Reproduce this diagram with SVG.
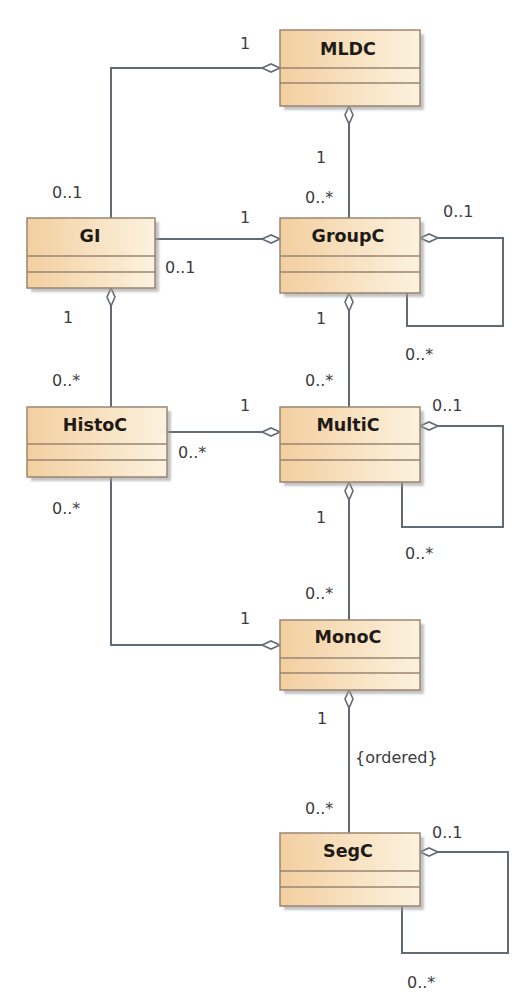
<svg xmlns="http://www.w3.org/2000/svg" width="518" height="1003" viewBox="0 0 518 1003">
<defs>
<linearGradient id="fill" x1="0" y1="0" x2="1" y2="0">
<stop offset="0" stop-color="#f3cfa0"/>
<stop offset="1" stop-color="#fcf2df"/>
</linearGradient>
<filter id="blur" x="-10%" y="-10%" width="130%" height="130%"><feGaussianBlur stdDeviation="1.2"/></filter>
</defs>
<style>
.shadow{fill:#9c9c9c;opacity:0.6;filter:url(#blur)}
.box{fill:url(#fill);stroke:#9a8672;stroke-width:1.5}
.div{stroke:#9a8672;stroke-width:1.5}
.title{font-family:"DejaVu Sans",Verdana,sans-serif;font-weight:bold;font-size:17.5px;fill:#1e1a16;text-anchor:middle}
.lbl{font-family:"DejaVu Sans",Verdana,sans-serif;font-size:16px;fill:#3c3c3c}
.ln{fill:none;stroke:#616b76;stroke-width:2}
.dia{fill:#ffffff;stroke:#616b76;stroke-width:1.6}
</style>
<rect width="518" height="1003" fill="#ffffff"/>
<g id="connectors">
<path class="ln" d="M262,68 L111,68 L111,218"/>
<polygon class="dia" points="280,68 271,64 262,68 271,72"/>
<path class="ln" d="M349,124 L349,218"/>
<polygon class="dia" points="349,106 345,115 349,124 353,115"/>
<path class="ln" d="M155,239 L262,239"/>
<polygon class="dia" points="280,239 271,235 262,239 271,243"/>
<path class="ln" d="M438,238 L503,238 L503,326 L407,326 L407,293"/>
<polygon class="dia" points="420,238 429,234 438,238 429,242"/>
<path class="ln" d="M349,311 L349,407"/>
<polygon class="dia" points="349,293 345,302 349,311 353,302"/>
<path class="ln" d="M111,306 L111,407"/>
<polygon class="dia" points="111,288 107,297 111,306 115,297"/>
<path class="ln" d="M167,432 L262,432"/>
<polygon class="dia" points="280,432 271,428 262,432 271,436"/>
<path class="ln" d="M438,426 L503,426 L503,527 L402,527 L402,482"/>
<polygon class="dia" points="420,426 429,422 438,426 429,430"/>
<path class="ln" d="M349,500 L349,620"/>
<polygon class="dia" points="349,482 345,491 349,500 353,491"/>
<path class="ln" d="M111,477 L111,645 L262,645"/>
<polygon class="dia" points="280,645 271,641 262,645 271,649"/>
<path class="ln" d="M349,708 L349,833"/>
<polygon class="dia" points="349,690 345,699 349,708 353,699"/>
<path class="ln" d="M438,852 L508,852 L508,953 L402,953 L402,906"/>
<polygon class="dia" points="420,852 429,848 438,852 429,856"/>
</g>
<g id="MLDC">
<rect class="shadow" x="284" y="34" width="140" height="76"/>
<rect class="box" x="280" y="30" width="140" height="76"/>
<line class="div" x1="280" y1="68" x2="420" y2="68"/>
<line class="div" x1="280" y1="83" x2="420" y2="83"/>
<text class="title" x="348" y="55">MLDC</text>
</g>
<g id="GI">
<rect class="shadow" x="31" y="222" width="128" height="70"/>
<rect class="box" x="27" y="218" width="128" height="70"/>
<line class="div" x1="27" y1="256" x2="155" y2="256"/>
<line class="div" x1="27" y1="272" x2="155" y2="272"/>
<text class="title" x="90" y="242">GI</text>
</g>
<g id="GroupC">
<rect class="shadow" x="284" y="222" width="140" height="75"/>
<rect class="box" x="280" y="218" width="140" height="75"/>
<line class="div" x1="280" y1="256" x2="420" y2="256"/>
<line class="div" x1="280" y1="272" x2="420" y2="272"/>
<text class="title" x="348" y="242">GroupC</text>
</g>
<g id="HistoC">
<rect class="shadow" x="31" y="411" width="140" height="70"/>
<rect class="box" x="27" y="407" width="140" height="70"/>
<line class="div" x1="27" y1="444" x2="167" y2="444"/>
<line class="div" x1="27" y1="460" x2="167" y2="460"/>
<text class="title" x="95" y="431">HistoC</text>
</g>
<g id="MultiC">
<rect class="shadow" x="284" y="411" width="140" height="75"/>
<rect class="box" x="280" y="407" width="140" height="75"/>
<line class="div" x1="280" y1="444" x2="420" y2="444"/>
<line class="div" x1="280" y1="460" x2="420" y2="460"/>
<text class="title" x="348" y="431">MultiC</text>
</g>
<g id="MonoC">
<rect class="shadow" x="284" y="624" width="140" height="70"/>
<rect class="box" x="280" y="620" width="140" height="70"/>
<line class="div" x1="280" y1="658" x2="420" y2="658"/>
<line class="div" x1="280" y1="673" x2="420" y2="673"/>
<text class="title" x="348" y="643">MonoC</text>
</g>
<g id="SegC">
<rect class="shadow" x="284" y="837" width="140" height="73"/>
<rect class="box" x="280" y="833" width="140" height="73"/>
<line class="div" x1="280" y1="871" x2="420" y2="871"/>
<line class="div" x1="280" y1="887" x2="420" y2="887"/>
<text class="title" x="348" y="857">SegC</text>
</g>
<g id="labels">
<text class="lbl" x="240" y="49">1</text>
<text class="lbl" x="52" y="198">0..1</text>
<text class="lbl" x="316" y="163">1</text>
<text class="lbl" x="305" y="203">0..*</text>
<text class="lbl" x="240" y="223">1</text>
<text class="lbl" x="165" y="273">0..1</text>
<text class="lbl" x="443" y="217">0..1</text>
<text class="lbl" x="405" y="360">0..*</text>
<text class="lbl" x="316" y="324">1</text>
<text class="lbl" x="305" y="386">0..*</text>
<text class="lbl" x="432" y="411">0..1</text>
<text class="lbl" x="316" y="523">1</text>
<text class="lbl" x="405" y="559">0..*</text>
<text class="lbl" x="240" y="411">1</text>
<text class="lbl" x="178" y="458">0..*</text>
<text class="lbl" x="52" y="386">0..*</text>
<text class="lbl" x="63" y="323">1</text>
<text class="lbl" x="52" y="514">0..*</text>
<text class="lbl" x="240" y="624">1</text>
<text class="lbl" x="305" y="599">0..*</text>
<text class="lbl" x="317" y="724">1</text>
<text class="lbl" x="355" y="763">{ordered}</text>
<text class="lbl" x="305" y="814">0..*</text>
<text class="lbl" x="432" y="838">0..1</text>
<text class="lbl" x="407" y="988">0..*</text>
</g>
</svg>
